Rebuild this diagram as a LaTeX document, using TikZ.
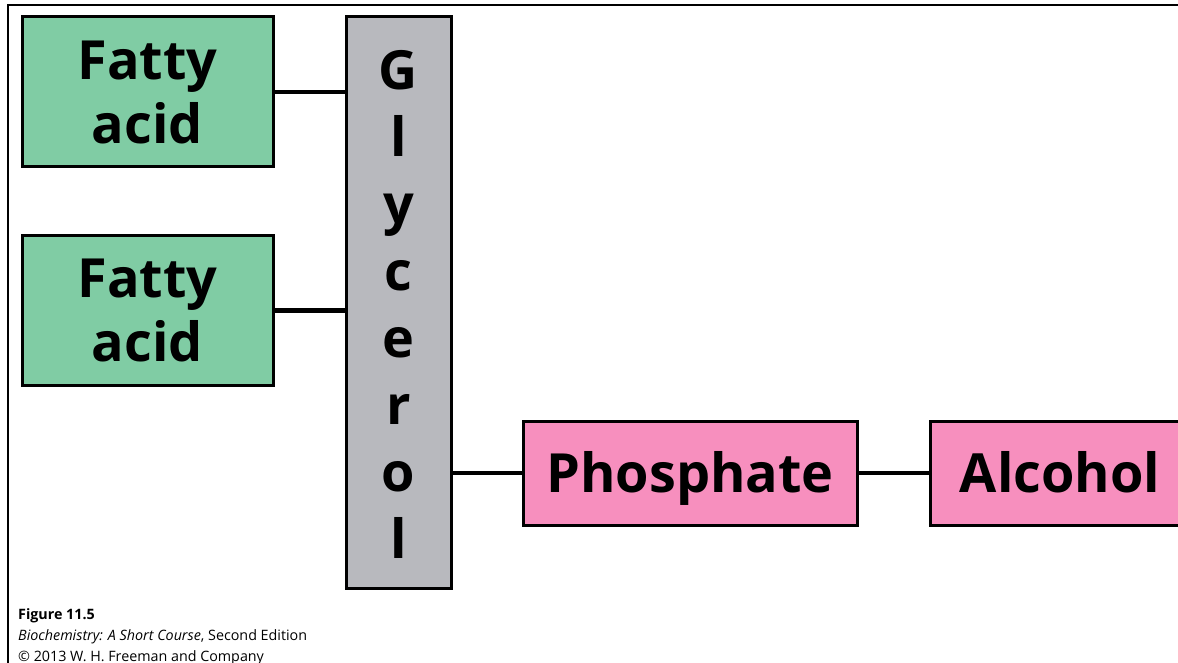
\documentclass[tikz,border=0pt]{standalone}
\usepackage{fontspec}
\setmainfont{Open Sans}
\usepackage{tikz}
\usepackage{xcolor}
\usetikzlibrary{positioning}

\definecolor{fagreen}{RGB}{128,204,164}
\definecolor{glygray}{RGB}{184,185,190}
\definecolor{phpink}{RGB}{247,143,190}

\tikzset{
    part/.style={rectangle, draw, line width=3pt, inner sep=0pt,
        font=\fontsize{54}{54}\selectfont\bfseries, align=center},
    oneline/.style={text height=38pt, text depth=0pt},
    link/.style={line width=4.5pt}
}

\begin{document}
\begin{tikzpicture}[x=1pt, y=-1pt]
        \useasboundingbox (0,0) rectangle (1178,663);
        % frame
        \draw[line width=2pt] (1178,5) -- (8,5) -- (8,663);

        \node[part, fill=fagreen, minimum width=251, minimum height=150,
            font=\fontsize{54}{64}\selectfont\bfseries] (fa1) at (147.5,92) {Fatty\\acid};
        \node[part, fill=fagreen, minimum width=251, minimum height=149,
            font=\fontsize{54}{64}\selectfont\bfseries] (fa2) at (147.5,310.5) {Fatty\\acid};
        \node[part, fill=glygray, minimum width=105, minimum height=571,
            font=\fontsize{54}{67}\selectfont\bfseries] (glycerol) at (398.5,302.5) {\rule{0pt}{43.6pt}G\\l\\y\\c\\e\\r\\o\\l};
        \node[part, oneline, fill=phpink, minimum width=334, minimum height=104] (phosphate) at (690,473) {Phosphate};
        \node[part, oneline, fill=phpink, minimum width=260, minimum height=104] (alcohol) at (1060,473) {Alcohol};

        \draw[link] (fa1) -- (fa1 -| glycerol.west);
        \draw[link] (fa2) -- (fa2 -| glycerol.west);
        \draw[link] (phosphate -| glycerol.east) -- (phosphate)
            (phosphate) -- (alcohol);

        % caption
        \node[anchor=base west, inner sep=0pt, font=\fontsize{14.3}{14.3}\selectfont\bfseries] (fig) at (18,619) {Figure 11.5};
        \node[anchor=base west, inner sep=0pt, font=\fontsize{14.3}{14.3}\selectfont] (book) at (18,640) {\textit{Biochemistry: A Short Course}, Second Edition};
        \node[anchor=base west, inner sep=0pt, font=\fontsize{14.3}{14.3}\selectfont] (copy) at (18,661) {\textcopyright{} 2013 W. H. Freeman and Company};
    \end{tikzpicture}
\end{document}
